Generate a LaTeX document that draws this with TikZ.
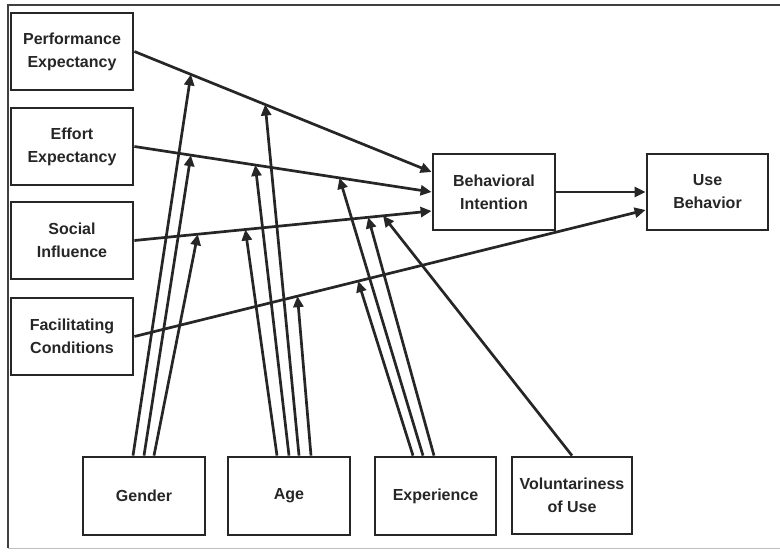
\documentclass[tikz,border=0pt]{standalone}
\usepackage{fontspec}
\newfontfamily\lblfont{Liberation Sans}
\usetikzlibrary{arrows.meta}

\begin{document}
\begin{tikzpicture}[x=1pt, y=-1pt,
  box/.style={draw, line width=2.8pt, inner sep=0pt, align=center,
    minimum width=122pt, minimum height=77pt, draw=black!85,
    font=\lblfont\bfseries\fontsize{16}{23}\selectfont, text=black!85},
  conn/.style={line width=2.7pt, draw=black!85,
    -{Triangle[length=11pt,width=10pt]}},
  frameline/.style={line width=1.5pt, black!75}
]
\useasboundingbox (0,0) rectangle (780,552);

% outer frame
\draw[frameline] (780,5) -- (8,5) -- (8,548);
\draw[line width=1pt, black!25] (8,548) -- (780,548);

% constructs
\node[box] (pe) at (72,51.5)  {Performance\\Expectancy};
\node[box] (ee) at (72,146.5) {Effort\\Expectancy};
\node[box] (si) at (72,240.5) {Social\\Influence};
\node[box] (fc) at (72,336.5) {Facilitating\\Conditions};
\node[box, minimum height=76pt] (bi) at (494,192) {Behavioral\\Intention};
\node[box, minimum width=121pt, minimum height=76pt] (ub) at (707.5,192) {Use\\Behavior};

% moderators
\node[box, minimum height=78pt] (gen) at (144,496)   {Gender};
\node[box, minimum height=78pt] (age) at (289,496)   {Age};
\node[box, minimum width=121pt, minimum height=78pt] (exp) at (435.5,496) {Experience};
\node[box, minimum width=120pt, minimum height=77pt] (vol) at (572,495.5) {Voluntariness\\of Use};

% main paths
\draw[conn] (pe.east) -- ([yshift=20pt]bi.west)
  coordinate[pos=0.19] (pe-g) coordinate[pos=0.44] (pe-a);
\draw[conn] (ee.east) -- (bi.west)
  coordinate[pos=0.19] (ee-g) coordinate[pos=0.4067] (ee-a) coordinate[pos=0.69] (ee-x);
\draw[conn] (si.east) -- ([yshift=-19pt]bi.west)
  coordinate[pos=0.2133] (si-g) coordinate[pos=0.3733] (si-a)
  coordinate[pos=0.7867] (si-x) coordinate[pos=0.8367] (si-v);
\draw[conn] (fc.east) -- ([yshift=-18pt]ub.west)
  coordinate[pos=0.319] (fc-a) coordinate[pos=0.4377] (fc-x);
\draw[conn] (bi.east) -- (ub.west);

% gender
\draw[conn] ([xshift=-11pt]gen.north) -- (pe-g);
\draw[conn] (gen.north) -- (ee-g);
\draw[conn] ([xshift=10pt]gen.north) -- (si-g);

% age
\draw[conn] ([xshift=-12pt]age.north) -- (si-a);
\draw[conn] (age.north) -- (ee-a);
\draw[conn] ([xshift=10pt]age.north) -- (pe-a);
\draw[conn] ([xshift=22pt]age.north) -- (fc-a);

% experience
\draw[conn] ([xshift=-22.5pt]exp.north) -- (fc-x);
\draw[conn] ([xshift=-12.5pt]exp.north) -- (ee-x);
\draw[conn] ([xshift=-1.5pt]exp.north) -- (si-x);

% voluntariness
\draw[conn] (vol.north) -- (si-v);
\end{tikzpicture}
\end{document}
